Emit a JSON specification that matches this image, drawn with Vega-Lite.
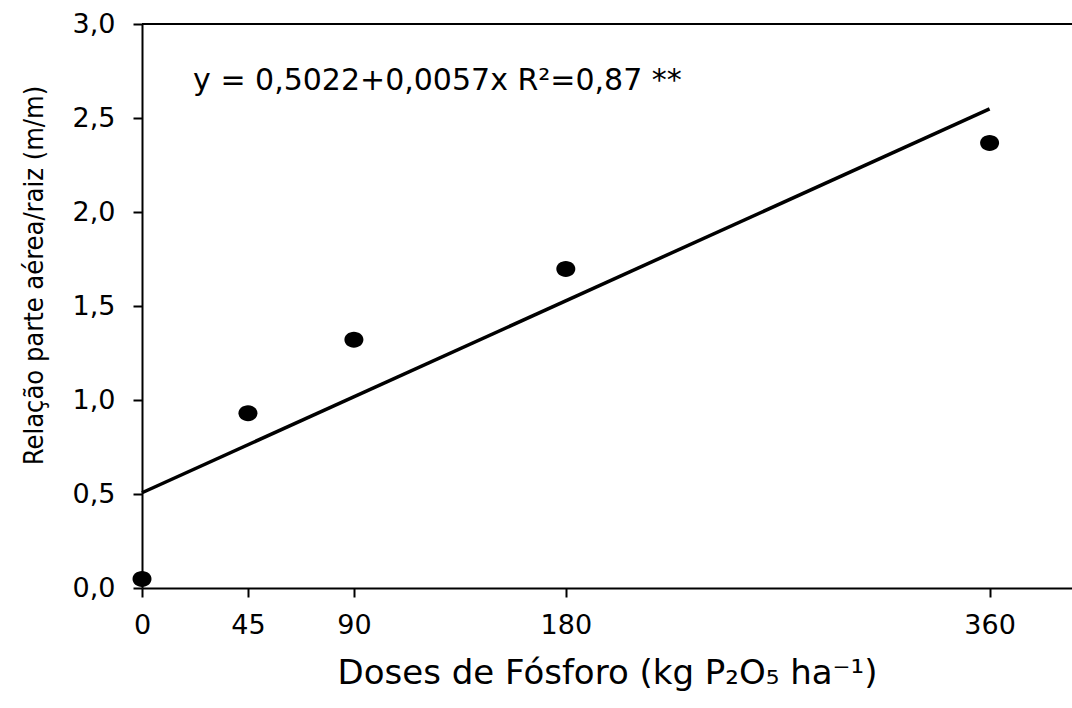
{
  "$schema": "https://vega.github.io/schema/vega-lite/v6.json",
  "width": 930,
  "height": 564,
  "autosize": {"type": "none"},
  "padding": {"left": 142, "top": 24, "right": 0, "bottom": 120},
  "background": "white",
  "config": {
    "view": {"stroke": null},
    "font": "DejaVu Sans",
    "axis": {
      "domainColor": "black", "domainWidth": 2,
      "tickColor": "black", "tickWidth": 2, "tickSize": 9,
      "labelFont": "DejaVu Sans", "labelFontSize": 27, "labelColor": "black",
      "titleFont": "DejaVu Sans", "titleFontSize": 34, "titleColor": "black", "titleFontWeight": "normal",
      "grid": false
    }
  },
  "datasets": {
    "pts": [
      {"dose": 0, "razao": 0.048},
      {"dose": 45, "razao": 0.93},
      {"dose": 90, "razao": 1.32},
      {"dose": 180, "razao": 1.697},
      {"dose": 360, "razao": 2.367}
    ]
  },
  "layer": [
    {
      "data": {"name": "pts"},
      "transform": [{"regression": "razao", "on": "dose", "extent": [0, 360]}],
      "mark": {"type": "line", "color": "black", "strokeWidth": 3.5},
      "encoding": {
        "x": {
          "field": "dose", "type": "quantitative",
          "scale": {"domain": [0, 395], "nice": false, "zero": false},
          "axis": {
            "values": [0, 45, 90, 180, 360],
            "labelFlush": false, "labelOverlap": false, "labelPadding": 15,
            "title": "Doses de Fósforo (kg P₂O₅ ha⁻¹)",
            "titleY": 95, "titleBaseline": "alphabetic", "titleAnchor": "middle"
          }
        },
        "y": {
          "field": "razao", "type": "quantitative",
          "scale": {"domain": [0, 3], "nice": false},
          "axis": {
            "values": [0, 0.5, 1, 1.5, 2, 2.5, 3],
            "labelExpr": "replace(format(datum.value, '.1f'), '.', ',')",
            "labelFlush": false, "labelOverlap": false, "labelPadding": 18,
            "title": "Relação parte aérea/raiz (m/m)",
            "titleFont": "DejaVu Sans Condensed",
            "titleFontSize": 27,
            "titleX": -100, "titleY": 251, "titleAlign": "center", "titleBaseline": "alphabetic", "titleAngle": 270
          }
        }
      }
    },
    {
      "data": {"name": "pts"},
      "mark": {
        "type": "point", "filled": true, "color": "black", "opacity": 1,
        "shape": "M -1 0 A 1 0.84 0 1 0 1 0 A 1 0.84 0 1 0 -1 0 Z",
        "size": 361
      },
      "encoding": {
        "x": {"field": "dose", "type": "quantitative"},
        "y": {"field": "razao", "type": "quantitative"}
      }
    },
    {
      "data": {"values": [{"lim": 3}]},
      "mark": {"type": "rule", "color": "black", "strokeWidth": 2},
      "encoding": {"y": {"field": "lim", "type": "quantitative"}}
    },
    {
      "data": {"values": [{"label": "y = 0,5022+0,0057x R²=0,87 **", "px": 21.7, "py": 2.649}]},
      "mark": {"type": "text", "align": "left", "baseline": "alphabetic", "fontSize": 30, "font": "DejaVu Sans", "color": "black"},
      "encoding": {
        "x": {"field": "px", "type": "quantitative"},
        "y": {"field": "py", "type": "quantitative"},
        "text": {"field": "label"}
      }
    }
  ]
}
